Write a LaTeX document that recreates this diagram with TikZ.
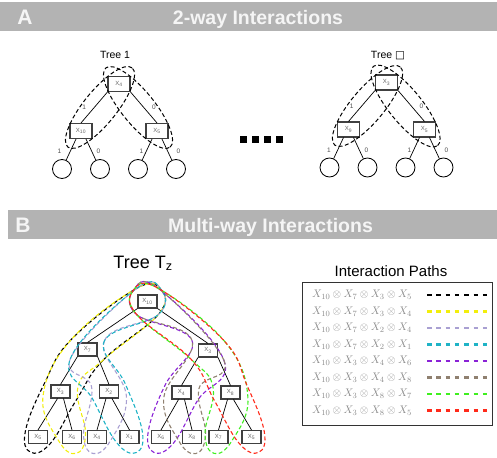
\documentclass[tikz,border=0pt]{standalone}
\usepackage{fontspec}
\setmainfont{Liberation Sans}
\newfontfamily\boxglyphfont{DejaVu Sans}
\usetikzlibrary{positioning, calc}

\definecolor{barGray}{HTML}{B3B3B3}
\definecolor{pathYellow}{HTML}{F2EE0C}
\definecolor{pathLavender}{HTML}{A9A0D2}
\definecolor{pathCyan}{HTML}{1FB3C6}
\definecolor{pathPurple}{HTML}{8A22D6}
\definecolor{pathBrown}{HTML}{8F8070}
\definecolor{pathGreen}{HTML}{3FEF1F}
\definecolor{pathRed}{HTML}{FF2A1A}

% dashed loop around one root-to-leaf path of four nodes
\newcommand{\pathloop}[5]{%
  \draw[loopline, #1] plot[smooth cycle, tension=0.7] coordinates {
    ($(#2)!17pt!90:(#3)$) ($(#3)!19pt!90:(#4)$) ($(#4)!18pt!90:(#5)$)
    ($(#5)!14pt!-90:(#4)$) ($(#5)!-17pt!(#4)$) ($(#5)!14pt!90:(#4)$)
    ($(#4)!18pt!-90:(#5)$) ($(#3)!19pt!-90:(#4)$) ($(#2)!17pt!-90:(#3)$)
    ($(#2)!-18pt!(#3)$)
  };}

\begin{document}
\begin{tikzpicture}[
  x=1pt, y=-1pt, on grid,
  vbox/.style     = {draw=black!75, line width=1.1pt, fill=white, inner sep=0pt,
                     font=\fontsize{6}{6}\selectfont, text=black!60},
  nodeA/.style    = {vbox, minimum width=22pt, minimum height=15pt},
  nodeB/.style    = {vbox, minimum width=19pt, minimum height=13pt},
  leafc/.style    = {draw, circle, line width=0.8pt, minimum size=19pt, inner sep=0pt},
  edge/.style     = {line width=0.7pt},
  elabel/.style   = {font=\fontsize{6.5}{6.5}\selectfont, text=black!70, inner sep=0.5pt},
  bartitle/.style = {text=white!96!black, font=\fontsize{19.5}{19.5}\selectfont\bfseries, inner sep=0pt, anchor=base},
  treetitle/.style= {font=\fontsize{10.5}{10.5}\selectfont, inner sep=0pt, anchor=base},
  pairloop/.style = {dash pattern=on 4pt off 2.5pt, line width=1pt},
  loopline/.style = {dash pattern=on 4pt off 2.5pt, line width=1.1pt},
  legline/.style  = {dash pattern=on 4.5pt off 4.8pt, line width=2.4pt},
  formula/.style  = {anchor=west, inner sep=0pt, text=black!45, font=\fontsize{11}{11}\selectfont},
]
  \useasboundingbox (0,0) rectangle (497,457);

  % headers
  \fill[barGray] (0,2) rectangle (497,31);
  \node[bartitle, font=\fontsize{21}{21}\selectfont\bfseries] (hA) at (25,24.5) {A};
  \node[bartitle] (titleA) at (258,24.5) {2-way Interactions};
  \fill[barGray] (8,210) rectangle (497,239);
  \node[bartitle, font=\fontsize{21}{21}\selectfont\bfseries] (hB) at (23,232.5) {B};
  \node[bartitle] (titleB) at (270.5,232.5) {Multi-way Interactions};

  % tree 1
  \node[treetitle] (t1title) at (115,59) {Tree 1};
  \node[nodeA] (t1root) at (119,84) {X\textsubscript{4}};
  \node[nodeA, below left=47pt and 38pt of t1root]  (t1l)  {X\textsubscript{10}};
  \node[nodeA, below right=47pt and 38pt of t1root] (t1r)  {X\textsubscript{5}};
  \node[leafc, below left=38pt and 19pt of t1l]     (t1ll) {};
  \node[leafc, below right=38pt and 19pt of t1l]    (t1lr) {};
  \node[leafc, below left=38pt and 19pt of t1r]     (t1rl) {};
  \node[leafc, below right=38pt and 19pt of t1r]    (t1rr) {};

  \draw[edge] (t1root.south west) -- node[elabel, left=7.5pt]{1} (t1l.north);
  \draw[edge] (t1root.south east) -- node[elabel, right=7.5pt]{0} (t1r.north);
  \draw[edge] ($(t1l.south)+(-5,0)$) -- node[elabel, pos=0.6, left=8pt]{1} (t1ll);
  \draw[edge] ($(t1l.south)+(5,0)$)  -- node[elabel, pos=0.6, right=4pt]{0} (t1lr);
  \draw[edge] ($(t1r.south)+(-5,0)$) -- node[elabel, pos=0.6, left=2pt]{1} (t1rl);
  \draw[edge] ($(t1r.south)+(5,0)$)  -- node[elabel, pos=0.6, right=8pt]{0} (t1rr);

  \coordinate (t1ml) at ($(t1root)!0.5!(t1l)$);
  \coordinate (t1mr) at ($(t1root)!0.5!(t1r)$);
  \draw[pairloop, rotate around={51:(t1ml)}]  (t1ml) ellipse [x radius=51pt, y radius=16.5pt];
  \draw[pairloop, rotate around={-51:(t1mr)}] (t1mr) ellipse [x radius=51pt, y radius=16.5pt];

  % dots between the trees
  \foreach \x in {243.5, 255.5, 267.5, 279.5}
    \fill (\x-3.5,136.5) rectangle ++(7,7);

  % last tree
  \node[treetitle] (t2title) at (388,59) {Tree {\boxglyphfont □}};
  \node[nodeA] (t2root) at (386.5,82.5) {X\textsubscript{3}};
  \node[nodeA, below left=47pt and 38pt of t2root]  (t2l)  {X\textsubscript{9}};
  \node[nodeA, below right=47pt and 38pt of t2root] (t2r)  {X\textsubscript{5}};
  \node[leafc, below left=38pt and 19pt of t2l]     (t2ll) {};
  \node[leafc, below right=38pt and 19pt of t2l]    (t2lr) {};
  \node[leafc, below left=38pt and 19pt of t2r]     (t2rl) {};
  \node[leafc, below right=38pt and 19pt of t2r]    (t2rr) {};

  \draw[edge] (t2root.south west) -- node[elabel, left=7.5pt]{1} (t2l.north);
  \draw[edge] (t2root.south east) -- node[elabel, right=7.5pt]{0} (t2r.north);
  \draw[edge] ($(t2l.south)+(-5,0)$) -- node[elabel, pos=0.6, left=6pt]{1} (t2ll);
  \draw[edge] ($(t2l.south)+(5,0)$)  -- node[elabel, pos=0.6, right=4.5pt]{0} (t2lr);
  \draw[edge] ($(t2r.south)+(-5,0)$) -- node[elabel, pos=0.6, left=1.5pt]{1} (t2rl);
  \draw[edge] ($(t2r.south)+(5,0)$)  -- node[elabel, pos=0.6, right=8.5pt]{0} (t2rr);

  \coordinate (t2ml) at ($(t2root)!0.5!(t2l)$);
  \coordinate (t2mr) at ($(t2root)!0.5!(t2r)$);
  \draw[pairloop, rotate around={50:(t2ml)}]  (t2ml) ellipse [x radius=51pt, y radius=16.5pt];
  \draw[pairloop, rotate around={-51:(t2mr)}] (t2mr) ellipse [x radius=51pt, y radius=16.5pt];

  % tree T_z
  \node[treetitle, font=\fontsize{18}{18}\selectfont] (tztitle) at (143,268) {Tree T\textsubscript{z}};
  \node[nodeB] (zroot) at (147.5,301.5) {X\textsubscript{10}};
  \node[nodeB, below left=48pt and 60pt of zroot]  (zl)  {X\textsubscript{7}};
  \node[nodeB, below right=49pt and 60.5pt of zroot] (zr) {X\textsubscript{3}};
  \node[nodeB, below left=42pt and 27pt of zl]     (zll) {X\textsubscript{3}};
  \node[nodeB, below right=42pt and 21.5pt of zl]  (zlr) {X\textsubscript{2}};
  \node[nodeB, below left=42pt and 26.5pt of zr]   (zrl) {X\textsubscript{4}};
  \node[nodeB, below right=42pt and 22.5pt of zr]  (zrr) {X\textsubscript{8}};
  \foreach \i/\x/\s in {1/38/5, 2/72/6, 3/97/4, 4/129.5/1, 5/161/6, 6/192/8, 7/218.5/7, 8/251.5/5}
    \node[nodeB] (zleaf\i) at (\x,437) {X\textsubscript{\s}};

  \draw[edge] (zroot.south west) -- (zl.north);
  \draw[edge] (zroot.south east) -- (zr.north);
  \draw[edge] (zl.south west) -- (zll.north);
  \draw[edge] (zl.south east) -- (zlr.north);
  \draw[edge] (zr.south west) -- (zrl.north);
  \draw[edge] (zr.south east) -- (zrr.north);
  \draw[edge] ($(zll.south)+(-3,0)$) -- (zleaf1.north);
  \draw[edge] ($(zll.south)+(3,0)$)  -- (zleaf2.north);
  \draw[edge] ($(zlr.south)+(-3,0)$) -- (zleaf3.north);
  \draw[edge] ($(zlr.south)+(3,0)$)  -- (zleaf4.north);
  \draw[edge] ($(zrl.south)+(-3,0)$) -- (zleaf5.north);
  \draw[edge] ($(zrl.south)+(3,0)$)  -- (zleaf6.north);
  \draw[edge] ($(zrr.south)+(-3,0)$) -- (zleaf7.north);
  \draw[edge] ($(zrr.south)+(3,0)$)  -- (zleaf8.north);

  \pathloop{black}{zroot}{zl}{zll}{zleaf1}
  \pathloop{pathYellow}{zroot}{zl}{zll}{zleaf2}
  \pathloop{pathLavender}{zroot}{zl}{zlr}{zleaf3}
  \pathloop{pathCyan}{zroot}{zl}{zlr}{zleaf4}
  \pathloop{pathPurple}{zroot}{zr}{zrl}{zleaf5}
  \pathloop{pathBrown}{zroot}{zr}{zrl}{zleaf6}
  \pathloop{pathGreen}{zroot}{zr}{zrr}{zleaf7}
  \pathloop{pathRed}{zroot}{zr}{zrr}{zleaf8}

  % legend
  \node[treetitle, font=\fontsize{15}{15}\selectfont] (legtitle) at (391,276.5) {Interaction Paths};
  \draw[line width=0.9pt, draw=black!80] (302,282) rectangle (492.5,425);
  \foreach \c/\a/\b/\d [count=\i from 0] in {black/7/3/5, pathYellow/7/3/4, pathLavender/7/2/4,
      pathCyan/7/2/1, pathPurple/3/4/6, pathBrown/3/4/8, pathGreen/3/8/7, pathRed/3/8/5} {
    \node[formula] (row\i) at (312,295+16.5*\i) {$X_{10}\otimes X_{\a}\otimes X_{\b}\otimes X_{\d}$};
    \coordinate (ls\i) at (427,295+16.5*\i);
    \coordinate (le\i) at (490,295+16.5*\i);
    \draw[legline, \c] (ls\i) -- (le\i);
  }
\end{tikzpicture}
\end{document}
